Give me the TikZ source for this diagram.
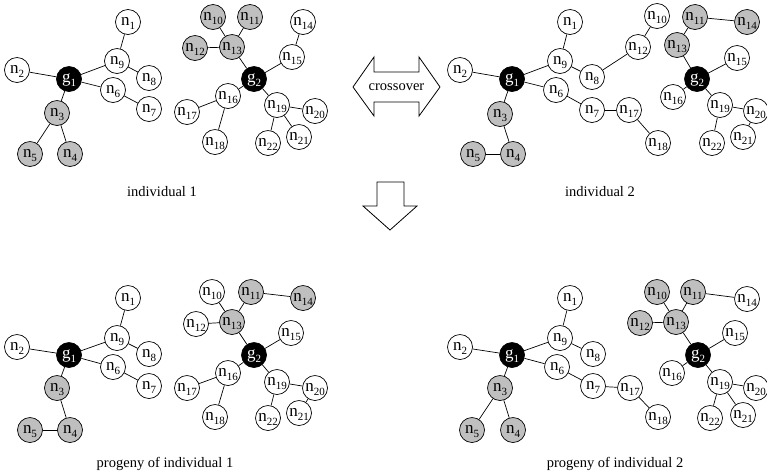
\documentclass[tikz,border=0pt]{standalone}
\usepackage{fontspec}
\setmainfont{Liberation Serif}
% node label: n or g with a lowered index, its x-height centred in the circle
\newcommand\vlab[2]{\makebox[0pt]{\raisebox{-0.23em}[0pt][0pt]{#1\raisebox{-0.2em}{\fontsize{11}{11}\selectfont #2}}}}
\begin{document}
\begin{tikzpicture}[x=1pt,y=-1pt,
  nd/.style={circle,draw,line width=0.7pt,minimum size=25pt,inner sep=0pt,
             font=\fontsize{17}{17}\selectfont},
  wn/.style={nd,fill=white},
  gn/.style={nd,fill=gray!50},
  bn/.style={nd,fill=black,text=white},
  ln/.style={line width=0.7pt},
  lbl/.style={font=\fontsize{14.5}{16}\selectfont},
  bigarrow/.style={draw,line width=0.8pt,fill=white,line join=miter}]
\useasboundingbox (0,0) rectangle (767,475);

% ---------- individual 1 ----------
\node[wn] (a1) at (128,22) {\vlab{n}{1}};
\node[wn] (a2) at (17,70) {\vlab{n}{2}};
\node[bn] (ag1) at (69,79) {\vlab{g}{1}};
\node[gn] (a3) at (57,113) {\vlab{n}{3}};
\node[gn] (a4) at (70,154) {\vlab{n}{4}};
\node[gn] (a5) at (30,154) {\vlab{n}{5}};
\node[wn] (a6) at (113,90) {\vlab{n}{6}};
\node[wn] (a7) at (149,109) {\vlab{n}{7}};
\node[wn] (a8) at (149,78) {\vlab{n}{8}};
\node[wn] (a9) at (117,61) {\vlab{n}{9}};
\node[gn] (a10) at (213,17) {\vlab{n}{10}};
\node[gn] (a11) at (250,17) {\vlab{n}{11}};
\node[gn] (a12) at (195,48) {\vlab{n}{12}};
\node[gn] (a13) at (232,47) {\vlab{n}{13}};
\node[wn] (a14) at (303,22) {\vlab{n}{14}};
\node[wn] (a15) at (292,57) {\vlab{n}{15}};
\node[bn] (ag2) at (254,79) {\vlab{g}{2}};
\node[wn] (a16) at (228,96) {\vlab{n}{16}};
\node[wn] (a17) at (187,112) {\vlab{n}{17}};
\node[wn] (a18) at (215,142) {\vlab{n}{18}};
\node[wn] (a19) at (277,105) {\vlab{n}{19}};
\node[wn] (a20) at (315,111) {\vlab{n}{20}};
\node[wn] (a21) at (299,137) {\vlab{n}{21}};
\node[wn] (a22) at (268,143) {\vlab{n}{22}};
\foreach \u/\v in {a1/a9,a2/ag1,ag1/a9,a9/a8,ag1/a6,a6/a7,ag1/a3,a3/a5,a3/a4,
  a10/a13,a11/a13,a12/a13,a13/ag2,ag2/a15,a15/a14,ag2/a16,a16/a17,a16/a18,
  ag2/a19,a19/a20,a19/a22,a19/a21}
  \draw[ln] (\u) -- (\v);
\node[lbl] (la) at (162,192) {individual 1};

% ---------- individual 2 ----------
\node[wn] (b1) at (570,22) {\vlab{n}{1}};
\node[wn] (b2) at (460,70) {\vlab{n}{2}};
\node[bn] (bg1) at (512,79) {\vlab{g}{1}};
\node[gn] (b3) at (500,114) {\vlab{n}{3}};
\node[gn] (b4) at (513,154) {\vlab{n}{4}};
\node[gn] (b5) at (473,154) {\vlab{n}{5}};
\node[wn] (b6) at (556,90) {\vlab{n}{6}};
\node[wn] (b7) at (592,110) {\vlab{n}{7}};
\node[wn] (b8) at (592,77) {\vlab{n}{8}};
\node[wn] (b9) at (560,61) {\vlab{n}{9}};
\node[wn] (b10) at (657,16) {\vlab{n}{10}};
\node[gn] (b11) at (695,17) {\vlab{n}{11}};
\node[wn] (b12) at (638,47) {\vlab{n}{12}};
\node[gn] (b13) at (677,45) {\vlab{n}{13}};
\node[gn] (b14) at (747,22) {\vlab{n}{14}};
\node[wn] (b15) at (737,58) {\vlab{n}{15}};
\node[bn] (bg2) at (697,79) {\vlab{g}{2}};
\node[wn] (b16) at (673,97) {\vlab{n}{16}};
\node[wn] (b17) at (629,110) {\vlab{n}{17}};
\node[wn] (b18) at (658,143) {\vlab{n}{18}};
\node[wn] (b19) at (720,105) {\vlab{n}{19}};
\node[wn] (b20) at (756,111) {\vlab{n}{20}};
\node[wn] (b21) at (743,137) {\vlab{n}{21}};
\node[wn] (b22) at (712,143) {\vlab{n}{22}};
\foreach \u/\v in {b1/b9,b2/bg1,bg1/b9,b9/b8,b8/b12,b12/b10,bg1/b6,b6/b7,b7/b17,
  b17/b18,bg1/b3,b3/b4,b4/b5,b11/b14,b11/b13,b13/bg2,bg2/b15,bg2/b16,bg2/b19,
  b19/b20,b19/b22,b20/b21}
  \draw[ln] (\u) -- (\v);
\node[lbl] (lb) at (600,192) {individual 2};

% ---------- progeny of individual 1 ----------
\node[wn] (c1) at (128,298) {\vlab{n}{1}};
\node[wn] (c2) at (17,347) {\vlab{n}{2}};
\node[bn] (cg1) at (69,355) {\vlab{g}{1}};
\node[gn] (c3) at (57,388) {\vlab{n}{3}};
\node[gn] (c4) at (70,430) {\vlab{n}{4}};
\node[gn] (c5) at (30,430) {\vlab{n}{5}};
\node[wn] (c6) at (113,367) {\vlab{n}{6}};
\node[wn] (c7) at (149,386) {\vlab{n}{7}};
\node[wn] (c8) at (149,354) {\vlab{n}{8}};
\node[wn] (c9) at (117,338) {\vlab{n}{9}};
\node[wn] (c10) at (212,292) {\vlab{n}{10}};
\node[gn] (c11) at (251,292) {\vlab{n}{11}};
\node[wn] (c12) at (196,324) {\vlab{n}{12}};
\node[gn] (c13) at (232,322) {\vlab{n}{13}};
\node[gn] (c14) at (303,298) {\vlab{n}{14}};
\node[wn] (c15) at (291,333) {\vlab{n}{15}};
\node[bn] (cg2) at (254,355) {\vlab{g}{2}};
\node[wn] (c16) at (228,373) {\vlab{n}{16}};
\node[wn] (c17) at (187,388) {\vlab{n}{17}};
\node[wn] (c18) at (215,417) {\vlab{n}{18}};
\node[wn] (c19) at (277,382) {\vlab{n}{19}};
\node[wn] (c20) at (315,388) {\vlab{n}{20}};
\node[wn] (c21) at (299,413) {\vlab{n}{21}};
\node[wn] (c22) at (268,418) {\vlab{n}{22}};
\foreach \u/\v in {c1/c9,c2/cg1,cg1/c9,c9/c8,cg1/c6,c6/c7,cg1/c3,c3/c4,c4/c5,
  c10/c13,c11/c13,c11/c14,c12/c13,c13/cg2,cg2/c15,cg2/c16,c16/c17,c16/c18,
  cg2/c19,c19/c20,c19/c22,c20/c21}
  \draw[ln] (\u) -- (\v);
\node[lbl] (lc) at (165,464) {progeny of individual 1};

% ---------- progeny of individual 2 ----------
\node[wn] (d1) at (570,298) {\vlab{n}{1}};
\node[wn] (d2) at (460,347) {\vlab{n}{2}};
\node[bn] (dg1) at (512,355) {\vlab{g}{1}};
\node[gn] (d3) at (500,388) {\vlab{n}{3}};
\node[gn] (d4) at (513,430) {\vlab{n}{4}};
\node[gn] (d5) at (472,430) {\vlab{n}{5}};
\node[wn] (d6) at (557,367) {\vlab{n}{6}};
\node[wn] (d7) at (593,386) {\vlab{n}{7}};
\node[wn] (d8) at (593,354) {\vlab{n}{8}};
\node[wn] (d9) at (560,338) {\vlab{n}{9}};
\node[gn] (d10) at (657,292) {\vlab{n}{10}};
\node[gn] (d11) at (693,292) {\vlab{n}{11}};
\node[gn] (d12) at (640,323) {\vlab{n}{12}};
\node[gn] (d13) at (676,322) {\vlab{n}{13}};
\node[wn] (d14) at (747,299) {\vlab{n}{14}};
\node[wn] (d15) at (735,333) {\vlab{n}{15}};
\node[bn] (dg2) at (698,355) {\vlab{g}{2}};
\node[wn] (d16) at (672,373) {\vlab{n}{16}};
\node[wn] (d17) at (630,388) {\vlab{n}{17}};
\node[wn] (d18) at (658,417) {\vlab{n}{18}};
\node[wn] (d19) at (720,382) {\vlab{n}{19}};
\node[wn] (d20) at (756,388) {\vlab{n}{20}};
\node[wn] (d21) at (743,415) {\vlab{n}{21}};
\node[wn] (d22) at (710,418) {\vlab{n}{22}};
\foreach \u/\v in {d1/d9,d2/dg1,dg1/d9,d9/d8,dg1/d6,d6/d7,d7/d17,d17/d18,
  dg1/d3,d3/d5,d3/d4,d10/d13,d11/d13,d11/d14,d12/d13,d13/dg2,dg2/d15,dg2/d16,
  dg2/d19,d19/d20,d19/d22,d19/d21}
  \draw[ln] (\u) -- (\v);
\node[lbl] (ld) at (615,464) {progeny of individual 2};

% ---------- crossover double arrow ----------
\draw[bigarrow] (353,87) -- (374,57) -- (374,72) -- (419,72) -- (419,57)
  -- (440,87) -- (419,116) -- (419,102) -- (374,102) -- (374,116) -- cycle;
\node[lbl] (cx) at (396.5,87) {crossover};

% ---------- downward arrow ----------
\draw[bigarrow] (377,182) -- (404,182) -- (404,206) -- (417,206) -- (390,230)
  -- (363,206) -- (377,206) -- cycle;
\end{tikzpicture}
\end{document}
